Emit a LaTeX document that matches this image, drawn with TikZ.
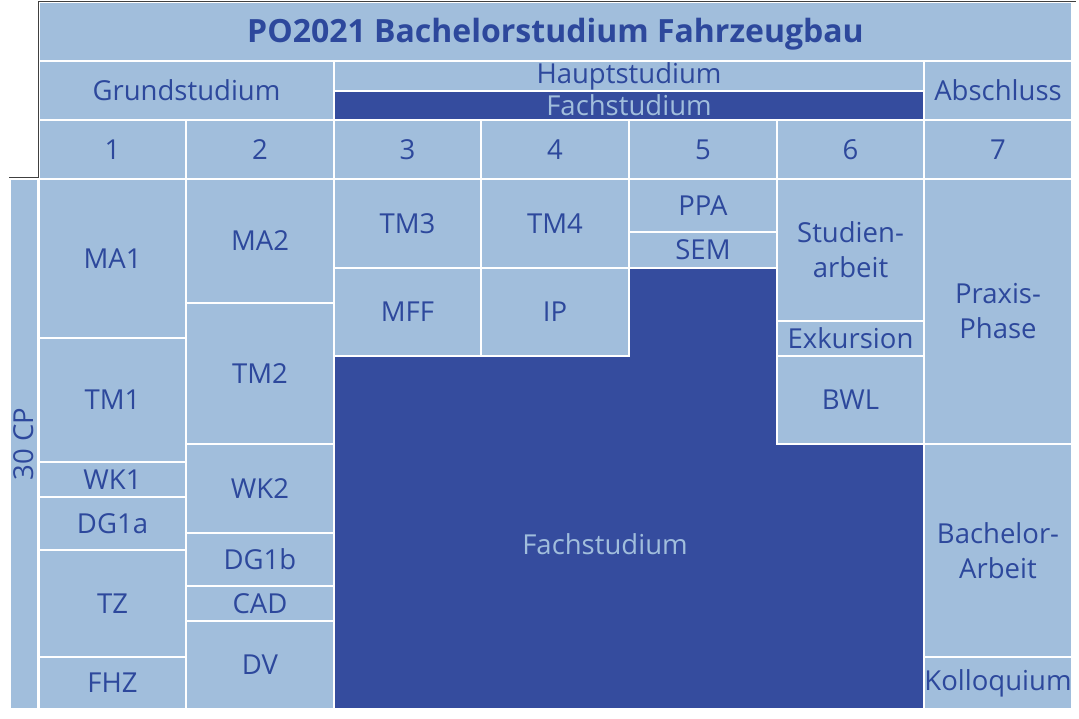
\documentclass[tikz,border=0pt]{standalone}
\usepackage{fontspec}
\setmainfont{Open Sans}
\usepackage{xcolor}
\definecolor{hellblau}{HTML}{A1BEDC}
\definecolor{dunkelblau}{HTML}{354C9E}
\definecolor{schrift}{HTML}{2D489C}

\begin{document}
\begin{tikzpicture}[x=1pt, y=-1pt,
    cell/.style={draw=white, line width=1.5pt, fill=hellblau, text=schrift,
        inner sep=0pt, outer sep=0pt, anchor=north west, align=center,
        font=\fontsize{27.5}{35}\selectfont},
    dark/.style={cell, fill=dunkelblau, text=hellblau},
    rahmen/.style={draw=black!75, line width=1pt}]
    \useasboundingbox (0,0) rectangle (1079,719);

    % Kopf
    \node[cell, minimum width=1033, minimum height=59, text height=22pt, text depth=0pt,
        font=\bfseries\fontsize{32}{36}\selectfont] (titel) at (39,2) {PO2021 Bachelorstudium Fahrzeugbau};
    \node[cell, minimum width=295, minimum height=59] (grund) at (39,61) {Grundstudium};
    \node[cell, minimum width=590, minimum height=30] (haupt) at (334,61) {Hauptstudium};
    \node[dark, minimum width=590, minimum height=29] (fachkopf) at (334,91) {Fachstudium};
    \node[cell, minimum width=148, minimum height=59] (abschluss) at (924,61) {Abschluss};

    % Semester
    \node[cell, minimum width=147, minimum height=59] (sem1) at (39,120) {1};
    \node[cell, minimum width=148, minimum height=59] (sem2) at (186,120) {2};
    \node[cell, minimum width=147, minimum height=59] (sem3) at (334,120) {3};
    \node[cell, minimum width=148, minimum height=59] (sem4) at (481,120) {4};
    \node[cell, minimum width=148, minimum height=59] (sem5) at (629,120) {5};
    \node[cell, minimum width=147, minimum height=59] (sem6) at (777,120) {6};
    \node[cell, minimum width=148, minimum height=59] (sem7) at (924,120) {7};

    % Leistungspunkte
    \node[cell, anchor=center, rotate=90, minimum width=530, minimum height=28] (cp) at (24,444) {30 CP};

    % Grundstudium
    \node[cell, minimum width=147, minimum height=159] (ma1) at (39,179) {MA1};
    \node[cell, minimum width=147, minimum height=124] (tm1) at (39,338) {TM1};
    \node[cell, minimum width=147, minimum height=35] (wk1) at (39,462) {WK1};
    \node[cell, minimum width=147, minimum height=53] (dg1a) at (39,497) {DG1a};
    \node[cell, minimum width=147, minimum height=107] (tz) at (39,550) {TZ};
    \node[cell, minimum width=147, minimum height=52] (fhz) at (39,657) {FHZ};

    \node[cell, minimum width=148, minimum height=124] (ma2) at (186,179) {MA2};
    \node[cell, minimum width=148, minimum height=141] (tm2) at (186,303) {TM2};
    \node[cell, minimum width=148, minimum height=89] (wk2) at (186,444) {WK2};
    \node[cell, minimum width=148, minimum height=53] (dg1b) at (186,533) {DG1b};
    \node[cell, minimum width=148, minimum height=35] (cad) at (186,586) {CAD};
    \node[cell, minimum width=148, minimum height=88] (dv) at (186,621) {DV};

    % Hauptstudium
    \node[cell, minimum width=147, minimum height=89] (tm3) at (334,179) {TM3};
    \node[cell, minimum width=147, minimum height=88] (mff) at (334,268) {MFF};
    \node[cell, minimum width=148, minimum height=89] (tm4) at (481,179) {TM4};
    \node[cell, minimum width=148, minimum height=88] (ip) at (481,268) {IP};
    \node[cell, minimum width=148, minimum height=53] (ppa) at (629,179) {PPA};
    \node[cell, minimum width=148, minimum height=36] (sem) at (629,232) {SEM};
    \node[cell, minimum width=147, minimum height=142] (studien) at (777,179) {Studien-\\arbeit};
    \node[cell, minimum width=147, minimum height=35] (exkursion) at (777,321) {Exkursion};
    \node[cell, minimum width=147, minimum height=88] (bwl) at (777,356) {BWL};

    % Fachstudium
    \fill[dunkelblau, draw=white, line width=1.5pt] (334,356) -- (629,356) -- (629,268) -- (777,268) -- (777,444)
        -- (924,444) -- (924,709) -- (334,709) -- cycle;
    \node[text=hellblau, font=\fontsize{27.5}{35}\selectfont] (fach) at (605,544) {Fachstudium};

    % Abschluss
    \node[cell, minimum width=148, minimum height=265] (praxis) at (924,179) {Praxis-\\Phase};
    \node[cell, minimum width=148, minimum height=213] (bachelor) at (924,444) {Bachelor-\\Arbeit};
    \node[cell, minimum width=148, minimum height=52] (kolloquium) at (924,657) {Kolloquium};

    % Rahmen
    \draw[rahmen] (9,178) -- (38,178) -- (38,2) -- (1076,2);
\end{tikzpicture}
\end{document}
